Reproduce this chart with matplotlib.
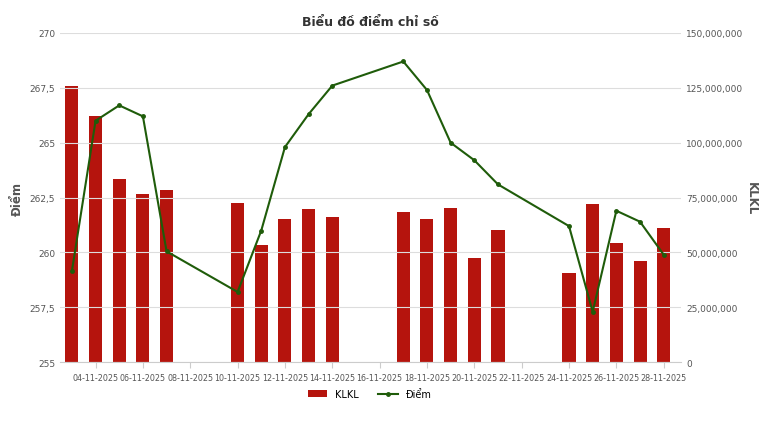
import matplotlib.pyplot as plt
import matplotlib.dates as mdates
import matplotlib.ticker as mticker
import pandas as pd

dates = ['2025-11-03', '2025-11-04', '2025-11-05', '2025-11-06', '2025-11-07',
         '2025-11-10', '2025-11-11', '2025-11-12', '2025-11-13', '2025-11-14',
         '2025-11-17', '2025-11-18', '2025-11-19', '2025-11-20', '2025-11-21',
         '2025-11-24', '2025-11-25', '2025-11-26', '2025-11-27', '2025-11-28']
diem = [259.15, 266.0, 266.7, 266.2, 260.05,
        258.2, 261.0, 264.8, 266.3, 267.6,
        268.7, 267.4, 265.0, 264.2, 263.1,
        261.2, 257.3, 261.9, 261.4, 259.9]
klkl = [125.8e6, 112e6, 83.4e6, 76.6e6, 78.4e6,
        72.5e6, 53.4e6, 65.2e6, 69.8e6, 66.1e6,
        68.4e6, 65.2e6, 70.2e6, 47.4e6, 60.2e6,
        40.6e6, 72e6, 54.3e6, 46e6, 61.1e6]
x = pd.to_datetime(dates)

plt.rcParams['font.family'] = ['DejaVu Sans']
fig, ax = plt.subplots(figsize=(7.7, 4.35), dpi=100)
fig.subplots_adjust(left=0.078, right=0.885, top=0.922, bottom=0.165)
ax2 = ax.twinx()

bars = ax2.bar(x, klkl, width=0.55, color='#b5140d', label='KLKL', zorder=2)
ax2.set_ylim(0, 150e6)
ax2.yaxis.set_major_locator(mticker.MultipleLocator(25e6))
ax2.yaxis.set_major_formatter(mticker.FuncFormatter(lambda v, p: f'{int(v):,}'))
ax2.set_ylabel('KLKL', rotation=270, labelpad=10, fontsize=8.5, color='#555555', fontweight='bold')

line, = ax.plot(x, diem, color='#1f5c0a', marker='o', markersize=2.5, linewidth=1.5, label='Điểm', zorder=3)
ax.set_ylim(255, 270)
ax.yaxis.set_major_locator(mticker.MultipleLocator(2.5))
ax.yaxis.set_major_formatter(mticker.FuncFormatter(lambda v, p: f'{v:g}'.replace('.', ',')))
ax.set_ylabel('Điểm', fontsize=8.5, color='#555555', fontweight='bold')
ax.grid(axis='y', color='#dddddd', linewidth=0.8)
ax.set_zorder(ax2.get_zorder() + 1)
ax.patch.set_visible(False)

ax.set_xlim(pd.Timestamp('2025-11-02 12:00'), pd.Timestamp('2025-11-28 18:00'))
ax.xaxis.set_major_locator(mdates.DayLocator(bymonthday=range(4, 29, 2)))
ax.xaxis.set_major_formatter(mdates.DateFormatter('%d-%m-%Y'))

for a in (ax, ax2):
    a.tick_params(labelsize=6.5, colors='#555555', length=0)
    for s in a.spines.values():
        s.set_visible(False)
ax.tick_params(axis='x', labelsize=5.8, length=4, color='#cccccc')
ax.spines['bottom'].set_visible(True)
ax.spines['bottom'].set_color('#cccccc')

ax.set_title('Biểu đồ điểm chỉ số', fontsize=9, fontweight='bold', color='#333333')
fig.legend(handles=[bars, line], loc='lower center', ncol=2, frameon=False, fontsize=7,
           bbox_to_anchor=(0.48, 0.06))
fig.savefig('out.png')
